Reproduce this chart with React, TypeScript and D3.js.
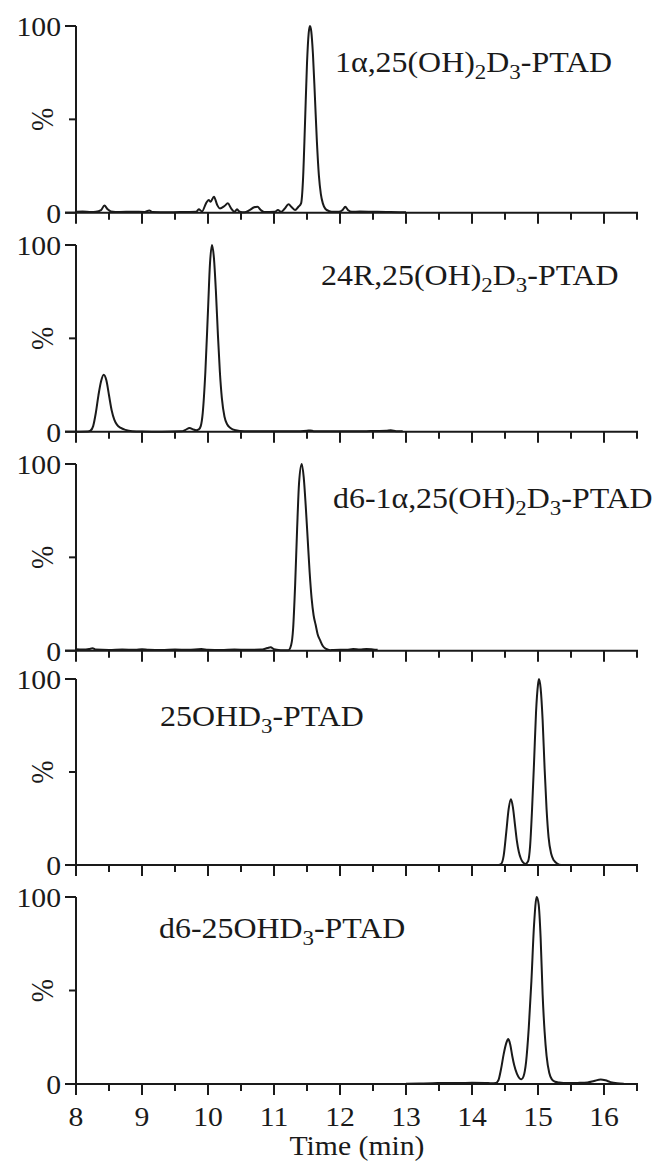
import React from "react";
import * as d3 from "d3";

// ---------- data ----------
const xTicksMajor = [8, 9, 10, 11, 12, 13, 14, 15, 16];
const xTicksMinor = [8.5, 9.5, 10.5, 11.5, 12.5, 13.5, 14.5, 15.5, 16.5];
const yTicks = [0, 50, 100];
const yTickLabels = ["0", "", "100"];
const xLabel = "Time (min)";
const yLabel = "%";

// 1α,25(OH)2D3-PTAD
const trace1: [number, number][] = [
  [8.0, 0.5], [8.1, 0.7], [8.23, 0.4], [8.3, 0.5], [8.38, 1.4], [8.43, 3.8], [8.48, 1.8], [8.53, 0.7],
  [8.66, 0.4], [8.86, 0.5], [9.04, 0.4], [9.11, 1.2], [9.16, 0.4], [9.41, 0.2], [9.67, 0.4], [9.82, 0.5],
  [9.86, 1.8], [9.91, 0.7], [9.97, 5], [10.01, 6.8], [10.04, 5.9], [10.09, 8.6], [10.14, 4.1], [10.18, 2.3],
  [10.25, 3.6], [10.3, 5], [10.35, 2.3], [10.4, 0.5], [10.44, 1.8], [10.48, 0.5], [10.55, 0.2], [10.63, 1.4],
  [10.7, 2.9], [10.75, 3.2], [10.8, 1.4], [10.85, 0.4], [11.01, 0.5], [11.06, 1.4], [11.11, 0.5], [11.16, 2.1],
  [11.22, 4.5], [11.27, 2.9], [11.32, 1.4], [11.37, 3.2], [11.41, 5], [11.44, 18], [11.47, 48], [11.5, 80],
  [11.525, 96], [11.545, 100], [11.565, 97], [11.59, 85], [11.62, 62], [11.65, 38], [11.68, 20], [11.71, 10],
  [11.74, 5], [11.78, 2], [11.84, 0.8], [11.9, 0.5], [11.98, 0.5], [12.04, 1.5], [12.08, 3.2], [12.12, 1.5],
  [12.18, 0.5], [12.3, 0.6], [12.5, 0.5], [12.7, 0.4], [12.9, 0.3], [13.0, 0.3],
];

// 24R,25(OH)2D3-PTAD
const trace2: [number, number][] = [
  [8.0, 0], [8.18, 0.1], [8.22, 0.6], [8.26, 3], [8.3, 10], [8.34, 19.5], [8.38, 27], [8.42, 30.5],
  [8.46, 27.5], [8.5, 19.5], [8.54, 11.5], [8.58, 6.5], [8.62, 3.8], [8.68, 2], [8.75, 1], [8.85, 0.3],
  [9.0, 0.1], [9.3, 0], [9.6, 0.2], [9.66, 1], [9.72, 2], [9.78, 1.2], [9.82, 0.8], [9.86, 1.2],
  [9.89, 3], [9.92, 10], [9.96, 32], [10.0, 65], [10.03, 90], [10.06, 100], [10.09, 93], [10.12, 75],
  [10.15, 52], [10.18, 32], [10.21, 18], [10.25, 8], [10.29, 4], [10.34, 2], [10.42, 0.8], [10.55, 0.3],
  [10.8, 0.2], [11.0, 0.3], [11.3, 0.2], [11.5, 0.5], [11.55, 0.7], [11.6, 0.3], [12.0, 0.2], [12.4, 0.3],
  [12.7, 0.5], [12.77, 0.8], [12.85, 0.3], [12.95, 0.2],
];

// d6-1α,25(OH)2D3-PTAD
const trace3: [number, number][] = [
  [8.0, 0.8], [8.1, 0.6], [8.2, 0.9], [8.25, 1.3], [8.3, 0.6], [8.5, 0.4], [8.7, 0.6], [8.9, 0.5],
  [9.0, 0.8], [9.1, 0.5], [9.3, 0.4], [9.5, 0.6], [9.7, 0.5], [9.9, 0.9], [10.0, 0.5], [10.2, 0.4],
  [10.4, 0.6], [10.6, 0.5], [10.8, 0.6], [10.9, 1.4], [10.95, 1.8], [11.0, 0.8], [11.1, 0.3], [11.18, 0.2],
  [11.22, 0.3], [11.26, 3], [11.29, 12], [11.32, 35], [11.35, 65], [11.38, 90], [11.42, 100], [11.45, 93],
  [11.48, 78], [11.51, 60], [11.54, 42], [11.57, 28], [11.6, 19], [11.63, 14], [11.66, 9], [11.7, 5.5],
  [11.74, 2.5], [11.79, 1], [11.85, 0.3], [11.9, 0.4], [12.1, 0.5], [12.2, 0.9], [12.3, 0.6], [12.4, 0.9],
  [12.5, 0.7], [12.57, 0.5],
];

// 25OHD3-PTAD
const trace4: [number, number][] = [
  [14.2, 0], [14.4, 0], [14.44, 0.5], [14.48, 5], [14.52, 18], [14.555, 30], [14.59, 35.3], [14.62, 31],
  [14.65, 22], [14.68, 13], [14.71, 7], [14.74, 3.5], [14.77, 1.5], [14.81, 0.6], [14.85, 2], [14.88, 10],
  [14.91, 30], [14.94, 55], [14.97, 82], [15.0, 97], [15.015, 100], [15.04, 95], [15.07, 78], [15.1, 52],
  [15.13, 30], [15.16, 15], [15.2, 6], [15.24, 2.5], [15.29, 0.8], [15.35, 0], [15.6, 0],
];

// d6-25OHD3-PTAD
const trace5: [number, number][] = [
  [13.0, 0.2], [13.2, 0.3], [13.4, 0.4], [13.6, 0.6], [13.8, 0.5], [14.0, 0.7], [14.2, 0.6], [14.3, 0.4],
  [14.36, 0.5], [14.4, 2], [14.44, 8], [14.48, 16], [14.52, 22], [14.55, 24], [14.58, 21], [14.61, 15],
  [14.64, 10], [14.68, 5.5], [14.72, 3], [14.75, 2.5], [14.78, 4], [14.82, 12], [14.86, 30], [14.9, 55],
  [14.94, 85], [14.98, 100], [15.01, 96], [15.04, 78], [15.07, 48], [15.1, 28], [15.13, 15], [15.17, 6],
  [15.21, 2.5], [15.26, 1.2], [15.32, 0.8], [15.45, 0.5], [15.6, 0.6], [15.75, 0.8], [15.85, 1.6], [15.95, 2.4],
  [16.02, 2.0], [16.1, 1], [16.2, 0.4], [16.3, 0.2],
];

type Part = { t: string; sub?: boolean };
const label1: Part[] = [{ t: "1α,25(OH)" }, { t: "2", sub: true }, { t: "D" }, { t: "3", sub: true }, { t: "-PTAD" }];
const label2: Part[] = [{ t: "24R,25(OH)" }, { t: "2", sub: true }, { t: "D" }, { t: "3", sub: true }, { t: "-PTAD" }];
const label3: Part[] = [{ t: "d6-1α,25(OH)" }, { t: "2", sub: true }, { t: "D" }, { t: "3", sub: true }, { t: "-PTAD" }];
const label4: Part[] = [{ t: "25OHD" }, { t: "3", sub: true }, { t: "-PTAD" }];
const label5: Part[] = [{ t: "d6-25OHD" }, { t: "3", sub: true }, { t: "-PTAD" }];

const traces = [trace1, trace2, trace3, trace4, trace5];
const labels = [label1, label2, label3, label4, label5];

// ---------- layout ----------
const W = 658;
const H = 1163;
const X0 = 76;
const X1 = 637;
const panelTop = [26, 245, 464, 679, 897];
const panelBottom = [212.7, 431.7, 650.7, 865, 1084];
const labelPos: [number, number][] = [[335, 72], [321, 285], [333, 508], [160, 726], [159, 938]];
const FONT = "'Liberation Serif', 'Times New Roman', serif";
const SX = 1.1;
const INK = "#1a1a1a";

function STxt({ x, y, size, anchor = "start", children }: any) {
  return (
    <text
      transform={`translate(${x},${y}) scale(${SX},1)`}
      fontFamily={FONT}
      fontSize={size}
      textAnchor={anchor}
      fill={INK}
    >
      {children}
    </text>
  );
}

function Label({ parts, x, y }: { parts: Part[]; x: number; y: number }) {
  const size = 29;
  const shift = 7;
  let cur = 0;
  const spans = parts.map((p, i) => {
    const target = p.sub ? shift : 0;
    const dy = target - cur;
    cur = target;
    return (
      <tspan key={i} dy={dy} fontSize={p.sub ? size * 0.72 : size}>
        {p.t}
      </tspan>
    );
  });
  return (
    <STxt x={x} y={y} size={size}>
      {spans}
    </STxt>
  );
}

function Panel({ idx }: { idx: number }) {
  const top = panelTop[idx];
  const bottom = panelBottom[idx];
  const x = d3.scaleLinear().domain([8, 16.5]).range([X0, X1]);
  const y = d3.scaleLinear().domain([0, 100]).range([bottom, top]);
  const line = d3
    .line<[number, number]>()
    .x((d) => x(d[0]))
    .y((d) => y(d[1]))
    .curve(d3.curveMonotoneX);
  const isLast = idx === panelTop.length - 1;
  const [lx, ly] = labelPos[idx];
  return (
    <g>
      <path d={line(traces[idx]) || ""} fill="none" stroke={INK} strokeWidth={2} strokeLinejoin="round" />
      {/* axes */}
      <line x1={X0} x2={X0} y1={y(100)} y2={y(0)} stroke={INK} strokeWidth={2} />
      <line x1={X0 - 11} x2={X1 + 1} y1={y(0)} y2={y(0)} stroke={INK} strokeWidth={2} />
      {yTicks.map((t, i) => (
        <g key={"y" + t}>
          <line x1={X0 - (t === 50 ? 7 : 11)} x2={X0} y1={y(t)} y2={y(t)} stroke={INK} strokeWidth={2} />
          {yTickLabels[i] && (
            <STxt x={61} y={y(t) + 10} size={27} anchor="end">
              {yTickLabels[i]}
            </STxt>
          )}
        </g>
      ))}
      {xTicksMajor.map((t) => (
        <line key={"M" + t} x1={x(t)} x2={x(t)} y1={y(0)} y2={y(0) + 11} stroke={INK} strokeWidth={2} />
      ))}
      {xTicksMinor.map((t) => (
        <line key={"m" + t} x1={x(t)} x2={x(t)} y1={y(0)} y2={y(0) + 7} stroke={INK} strokeWidth={2} />
      ))}
      {isLast &&
        xTicksMajor.map((t) => (
          <STxt key={"l" + t} x={x(t)} y={1126} size={27} anchor="middle">
            {String(t)}
          </STxt>
        ))}
      <text
        transform={`translate(53,${y(50)}) rotate(-90) scale(1,${SX})`}
        fontFamily={FONT}
        fontSize={28}
        textAnchor="middle"
        fill={INK}
      >
        {yLabel}
      </text>
      <Label parts={labels[idx]} x={lx} y={ly} />
    </g>
  );
}

export default function App() {
  return (
    <svg
      width={W}
      height={H}
      viewBox={`0 0 ${W} ${H}`}
      style={{ position: "absolute", left: 0, top: 0, display: "block", background: "#fff" }}
    >
      <rect width={W} height={H} fill="#fff" />
      {panelTop.map((_, i) => (
        <Panel key={i} idx={i} />
      ))}
      <STxt x={357} y={1155} size={27} anchor="middle">
        {xLabel}
      </STxt>
    </svg>
  );
}
